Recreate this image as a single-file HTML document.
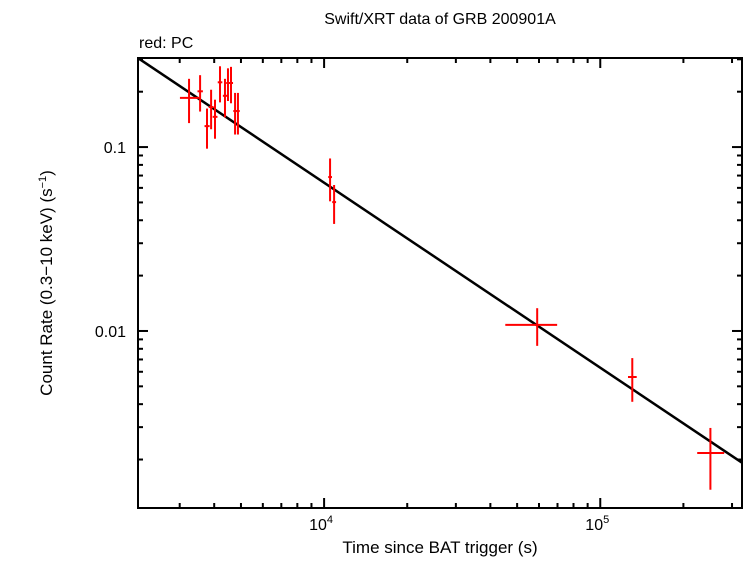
<!DOCTYPE html>
<html><head><meta charset="utf-8"><style>
html,body{margin:0;padding:0;background:#fff}
svg text{font-family:"Liberation Sans",sans-serif;fill:#000}
</style></head><body>
<svg id="chart" width="746" height="558" xmlns="http://www.w3.org/2000/svg">
<text x="440" y="24" font-size="16" text-anchor="middle">Swift/XRT data of GRB 200901A</text>
<text x="139" y="48" font-size="16">red: PC</text>
<text x="440" y="553" font-size="17" text-anchor="middle">Time since BAT trigger (s)</text>
<text transform="translate(52,283) rotate(-90)" font-size="17" text-anchor="middle">Count Rate (0.3−10 keV) (s<tspan font-size="11" dy="-6">−1</tspan><tspan dy="6">)</tspan></text>
<g id="ticks"></g>
<g id="fit"></g>
<g id="pts"></g>
<rect x="138" y="58" width="604" height="450" fill="none" stroke="#000" stroke-width="2"/>
</svg>
<script>
const times = [3243,3556,3767,3898,4027,4198,4376,4487,4601,4760,4876,10510,10870,59100,130600,250500];
const timeLo = [3006,3480,3690,3820,3950,4120,4300,4420,4530,4690,4800,10350,10700,45300,126000,224400];
const timeHi = [3524,3640,3850,3980,4110,4280,4450,4560,4680,4830,4950,10680,11050,69800,135500,281000];
const rates = [0.185,0.201,0.130,0.165,0.146,0.225,0.190,0.223,0.223,0.157,0.157,0.0687,0.0502,0.0108,0.00562,0.00217];
const rateErr = [0.05,0.045,0.032,0.04,0.035,0.05,0.045,0.045,0.05,0.04,0.04,0.018,0.012,0.0025,0.0015,0.0008];
const fitNorm = 0.064;
const fitIndex = 1.006;
const xTickLabels = ["10","10"];
const xTickExps = [4,5];
const yTickValues = [0.1,0.01];
const yTickLabels = ["0.1","0.01"];

const L=138,R=742,T=58,B=508;
const xmin=Math.log10(2119), xmax=Math.log10(326000);
const ymin=Math.log10(0.00109), ymax=Math.log10(0.305);
const X=v=>L+(Math.log10(v)-xmin)/(xmax-xmin)*(R-L);
const Y=v=>B-(Math.log10(v)-ymin)/(ymax-ymin)*(B-T);
const NS="http://www.w3.org/2000/svg";
function mk(tag,attrs,parent){const e=document.createElementNS(NS,tag);for(const k in attrs)e.setAttribute(k,attrs[k]);parent.appendChild(e);return e;}
const tg=document.getElementById('ticks');
// x ticks
for(let d=3;d<=5;d++){for(let m=1;m<10;m++){const v=m*Math.pow(10,d);const x=X(v);if(x<L||x>R)continue;const len=m==1?10:5;
const t1=mk('line',{x1:x,x2:x,y1:B,y2:B-len,stroke:'#000','stroke-width':2},tg);


const t2=mk('line',{x1:x,x2:x,y1:T,y2:T+len,stroke:'#000','stroke-width':2},tg);

}}
xTickExps.forEach((e,i)=>{const x=X(Math.pow(10,e));const t=mk('text',{x:x-3,y:530,'font-size':16,'text-anchor':'middle'},tg);t.textContent=xTickLabels[i];const s=document.createElementNS(NS,'tspan');s.setAttribute('font-size','11');s.setAttribute('dy','-7');s.textContent=e;t.appendChild(s);

});
// y ticks
for(let d=-3;d<=-1;d++){for(let m=1;m<10;m++){const v=m*Math.pow(10,d);const y=Y(v);if(y<T||y>B)continue;const len=m==1?10:5;
const t1=mk('line',{x1:L,x2:L+len,y1:y,y2:y,stroke:'#000','stroke-width':2},tg);


const t2=mk('line',{x1:R,x2:R-len,y1:y,y2:y,stroke:'#000','stroke-width':2},tg);

}}
yTickValues.forEach((v,i)=>{const t=mk('text',{x:126,y:Y(v)+6,'font-size':16,'text-anchor':'end'},tg);t.textContent=yTickLabels[i];

});
// fit line
const f=v=>fitNorm*Math.pow(v/1e4,-fitIndex);
const t0=2119,t1=326000;
const fl=mk('line',{x1:X(t0),y1:Y(f(t0)),x2:X(t1),y2:Y(f(t1)),stroke:'#000','stroke-width':2.5},document.getElementById('fit'));


// points
const pg=document.getElementById('pts');
times.forEach((t,i)=>{const g=mk('g',{},pg);


mk('line',{x1:X(timeLo[i]),x2:X(timeHi[i]),y1:Y(rates[i]),y2:Y(rates[i]),stroke:'#f00','stroke-width':2},g);
mk('line',{x1:X(t),x2:X(t),y1:Y(rates[i]+rateErr[i]),y2:Y(rates[i]-rateErr[i]),stroke:'#f00','stroke-width':2},g);});
</script>
</body></html>
